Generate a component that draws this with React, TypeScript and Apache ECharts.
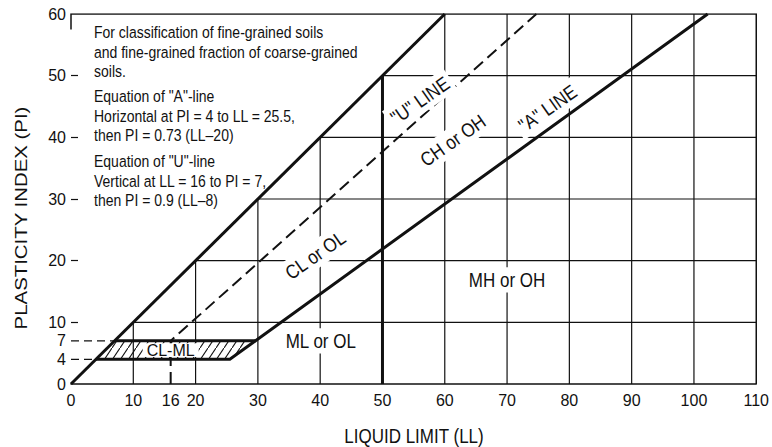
import React, { useEffect, useRef } from "react";
import * as echarts from "echarts";

// ---- data -----------------------------------------------------------
const xTickLabels = [0, 10, 16, 20, 30, 40, 50, 60, 70, 80, 90, 100, 110];
const yTickLabels = [0, 4, 7, 10, 20, 30, 40, 50, 60];
const yTickMarks = [10, 20, 30, 40, 50];
const LL_MAX = 110;
const PI_MAX = 60;
const gridLL = [10, 20, 30, 40, 60, 70, 80, 90, 100];
const gridPI = [10, 20, 30, 40, 50];

const limitLine = [[0, 0], [60, 60]];
const aLine = [[4, 4], [25.5, 4], [102.2, 60]];
const uLine = [[16, 0], [16, 7], [74.7, 60]];
const llFiftyLine = [[50, 0], [50, 50]];
const clmlTop = [[7, 7], [29.6, 7]];
const pi7Ref = [[0, 7], [7, 7]];
const pi4Ref = [[0, 4], [4, 4]];
const clmlZone = [[4, 4], [25.5, 4], [29.6, 7], [7, 7]];
const frame = [[0, 57.5], [0, 60], [110, 60], [110, 0]];

const zoneNames = ["CL or OL", "CH or OH", "ML or OL", "MH or OH", '"U" LINE', '"A" LINE', "CL-ML"];
const zoneLL = [39.2, 61.3, 40.1, 70, 56.0, 76.5, 16.0];
const zonePI = [20.9, 39.5, 7.0, 16.9, 46.0, 44.7, 5.5];
const zoneAngle = [35, 35, 0, 0, 35, 35, 0];

const notes = [
  ["For classification of fine-grained soils", "and fine-grained fraction of coarse-grained", "soils."],
  ['Equation of "A"-line', "Horizontal at PI = 4 to LL = 25.5,", "then PI = 0.73 (LL\u201320)"],
  ['Equation of "U"-line', "Vertical at LL = 16 to PI = 7,", "then PI = 0.9 (LL\u20138)"],
];

// ---- styles ---------------------------------------------------------
const FONT = "'Liberation Sans', Arial, Helvetica, sans-serif";
const INK = "#111";
const hatchSvg =
  "<svg xmlns='http://www.w3.org/2000/svg' width='8' height='12'><line x1='0' y1='12' x2='8' y2='0' stroke='#111' stroke-width='1.1'/></svg>";
const hatchUrl = "data:image/svg+xml;charset=utf-8," + encodeURIComponent(hatchSvg);

function lineSeries(data: number[][], width: number, dash?: number[], z = 4) {
  return {
    type: "line",
    data,
    symbol: "none",
    silent: true,
    z,
    lineStyle: { color: INK, width, type: dash ?? "solid", cap: "butt", join: "miter" },
  };
}

const gridSegments = [
  ...gridLL.map((v) => [v, 0, v, Math.min(v, PI_MAX)]),
  ...gridPI.map((v) => [v, v, LL_MAX, v]),
];

const zoneData = zoneNames.map((_, i) => [zoneLL[i], zonePI[i], zoneAngle[i]]);

const option: any = {
  animation: false,
  grid: { left: 71, right: 14, top: 14, bottom: 63, containLabel: false },
  xAxis: {
    type: "value",
    min: 0,
    max: LL_MAX,
    interval: 10,
    axisLine: { show: true, onZero: false, lineStyle: { color: INK, width: 1.5 } },
    axisTick: { show: false },
    splitLine: { show: false },
    axisLabel: {
      customValues: xTickLabels,
      fontSize: 16,
      fontFamily: FONT,
      color: INK,
      margin: 8,
    },
  },
  yAxis: {
    type: "value",
    min: 0,
    max: PI_MAX,
    interval: 10,
    axisLine: { show: false },
    axisTick: {
      show: true,
      inside: true,
      length: 7,
      customValues: yTickMarks,
      lineStyle: { color: INK, width: 1.2 },
    },
    splitLine: { show: false },
    axisLabel: {
      customValues: yTickLabels,
      fontSize: 16,
      fontFamily: FONT,
      color: INK,
      margin: 5,
    },
  },
  graphic: [
    ...notes.map((lines, i) => ({
      type: "text",
      x: 94,
      y: [23, 87, 152][i],
      scaleY: 1.18,
      silent: true,
      style: {
        text: lines.join("\n"),
        fontSize: 14,
        lineHeight: 16.2,
        fontFamily: FONT,
        fill: INK,
        align: "left",
        verticalAlign: "top",
      },
    })),
    {
      type: "text",
      x: 21,
      y: 218,
      rotation: Math.PI / 2,
      scaleX: 1.2,
      silent: true,
      style: {
        text: "PLASTICITY INDEX (PI)",
        fontSize: 17,
        fontFamily: FONT,
        fill: INK,
        align: "center",
        verticalAlign: "middle",
      },
    },
    {
      type: "text",
      x: 414,
      y: 436,
      scaleY: 1.2,
      silent: true,
      style: {
        text: "LIQUID LIMIT (LL)",
        fontSize: 17,
        fontFamily: FONT,
        fill: INK,
        align: "center",
        verticalAlign: "middle",
      },
    },
  ],
  series: [
    {
      type: "custom",
      name: "grid",
      silent: true,
      z: 1,
      encode: { x: [0, 2], y: [1, 3] },
      data: gridSegments,
      renderItem: (_p: any, api: any) => {
        const a = api.coord([api.value(0), api.value(1)]);
        const b = api.coord([api.value(2), api.value(3)]);
        return {
          type: "line",
          shape: { x1: a[0], y1: a[1], x2: b[0], y2: b[1] },
          style: { stroke: INK, lineWidth: 1.2 },
        };
      },
    },
    {
      type: "custom",
      name: "CL-ML zone",
      silent: true,
      z: 2,
      data: clmlZone,
      renderItem: (p: any, api: any) => {
        if (p.dataIndex !== 0) return null;
        const pts = clmlZone.map((q) => api.coord(q));
        return {
          type: "polygon",
          shape: { points: pts },
          style: {
            fill: { image: hatchUrl, repeat: "repeat", imageWidth: 8, imageHeight: 12 },
            stroke: "none",
          },
        };
      },
    },
    lineSeries(frame, 1.5, undefined, 3),
    lineSeries(limitLine, 3),
    lineSeries(aLine, 3),
    lineSeries(llFiftyLine, 3),
    lineSeries(clmlTop, 3),
    lineSeries(uLine, 2, [12, 6]),
    lineSeries(pi7Ref, 1.2, [8, 5]),
    lineSeries(pi4Ref, 1.2, [8, 5]),
    {
      type: "custom",
      name: "zones",
      silent: true,
      z: 6,
      data: zoneData,
      renderItem: (p: any, api: any) => {
        const c = api.coord([api.value(0), api.value(1)]);
        const small = p.dataIndex === 6;
        return {
          type: "text",
          x: c[0],
          y: c[1],
          rotation: (api.value(2) * Math.PI) / 180,
          scaleY: small ? 1.05 : 1.15,
          style: {
            text: zoneNames[p.dataIndex],
            fontSize: small ? 16 : 17,
            lineHeight: small ? 13 : 18,
            fontFamily: FONT,
            fill: INK,
            align: "center",
            verticalAlign: "middle",
            backgroundColor: "#fff",
            padding: small ? [0, 4] : [2, 4],
          },
        };
      },
    },
  ],
};

export default function App() {
  const ref = useRef<HTMLDivElement>(null);
  useEffect(() => {
    const chart = echarts.init(ref.current!, null, { renderer: "svg" });
    chart.setOption(option);
    return () => chart.dispose();
  }, []);
  return (
    <div
      ref={ref}
      style={{ position: "fixed", left: 0, top: 0, width: 772, height: 447, background: "#fff" }}
    />
  );
}
